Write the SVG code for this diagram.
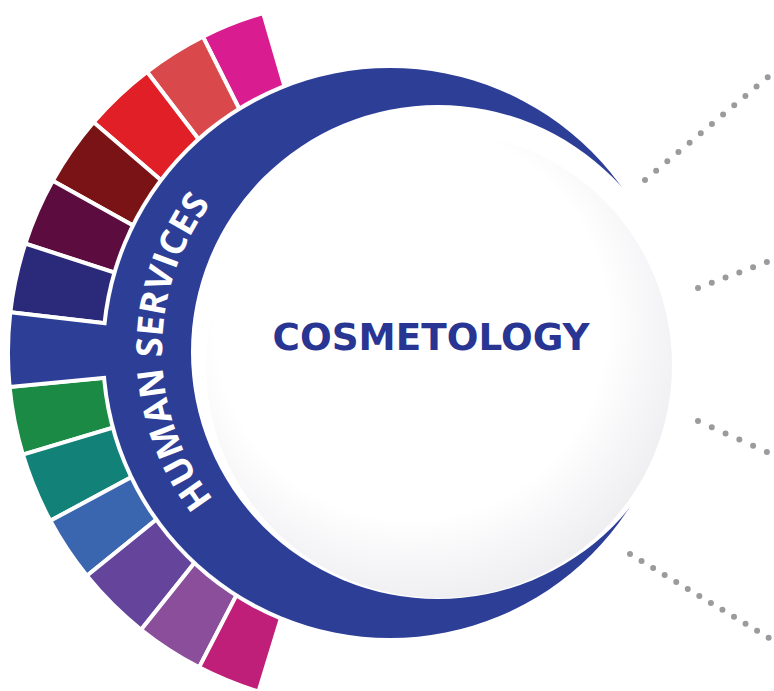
<svg xmlns="http://www.w3.org/2000/svg" width="774" height="691" viewBox="0 0 774 691">
<defs>
<style>
.seg{stroke:#ffffff;stroke-width:4;stroke-linejoin:miter}
.dots{fill:none;stroke:#9b9b9b;stroke-width:6;stroke-linecap:round}
.band-text{font-family:"Open Sans","DejaVu Sans",sans-serif;font-weight:700;font-size:36px;fill:#ffffff}
.title{font-family:"DejaVu Sans","Liberation Sans",sans-serif;font-weight:700;font-size:38px;fill:#283593}
</style>
<radialGradient id="hubGrad" cx="44%" cy="41%" r="60%">
<stop offset="0" stop-color="#ffffff"/>
<stop offset="0.7" stop-color="#ffffff"/>
<stop offset="0.86" stop-color="#f6f6f8"/>
<stop offset="1" stop-color="#efeff2"/>
</radialGradient>
<path id="bandArc" d="M213.5 499.6 A243 243 0 0 1 209.2 206.1"/>
</defs>
<rect x="0" y="0" width="774" height="691" fill="#ffffff"/>

<g id="segments">
<path id="seg-1" class="seg" fill="#d91c8f" d="M362 353 L202.9 36.7 A354 354 0 0 1 263.2 13.1 Z"/>
<path id="seg-2" class="seg" fill="#d9484a" d="M362 353 L147.0 71.8 A354 354 0 0 1 202.9 36.7 Z"/>
<path id="seg-3" class="seg" fill="#e01f26" d="M362 353 L93.6 122.2 A354 354 0 0 1 147.0 71.8 Z"/>
<path id="seg-4" class="seg" fill="#7a1315" d="M362 353 L52.7 180.8 A354 354 0 0 1 93.6 122.2 Z"/>
<path id="seg-5" class="seg" fill="#5c0c3f" d="M362 353 L25.3 243.6 A354 354 0 0 1 52.7 180.8 Z"/>
<path id="seg-6" class="seg" fill="#2b2a7a" d="M362 353 L10.3 312.3 A354 354 0 0 1 25.3 243.6 Z"/>
<path id="seg-8" class="seg" fill="#1a8a45" d="M362 353 L22.9 454.7 A354 354 0 0 1 9.6 386.9 Z"/>
<path id="seg-9" class="seg" fill="#128178" d="M362 353 L50.3 520.8 A354 354 0 0 1 22.9 454.7 Z"/>
<path id="seg-10" class="seg" fill="#3a66b0" d="M362 353 L86.9 575.8 A354 354 0 0 1 50.3 520.8 Z"/>
<path id="seg-11" class="seg" fill="#65459b" d="M362 353 L141.1 629.7 A354 354 0 0 1 86.9 575.8 Z"/>
<path id="seg-12" class="seg" fill="#8a4e9b" d="M362 353 L199.1 667.3 A354 354 0 0 1 141.1 629.7 Z"/>
<path id="seg-13" class="seg" fill="#bf1f78" d="M362 353 L258.5 691.5 A354 354 0 0 1 199.1 667.3 Z"/>
<circle cx="390" cy="353" r="289" fill="#ffffff"/>
<path id="seg-7" class="seg" fill="#2d3e97" d="M362 353 L9.6 386.9 A354 354 0 0 1 10.3 312.3 Z"/>
</g>

<g id="hub">
<circle cx="390" cy="353" r="285" fill="#2d3e97"/>
<circle cx="438" cy="352" r="247" fill="#ffffff"/>
<circle cx="439" cy="365" r="233" fill="url(#hubGrad)"/>
</g>

<g id="human-services">
<text class="band-text"><textPath href="#bandArc" textLength="318" lengthAdjust="spacing">HUMAN SERVICES</textPath></text>
</g>

<g id="cosmetology">
<text class="title" x="431" y="350" text-anchor="middle" textLength="317" lengthAdjust="spacingAndGlyphs">COSMETOLOGY</text>
</g>

<g id="connectors">
<line class="dots" x1="645" y1="180" x2="768" y2="77" stroke-dasharray="0 14.55"/>
<line class="dots" x1="698" y1="288" x2="767" y2="262" stroke-dasharray="0 14.72"/>
<line class="dots" x1="698" y1="421" x2="767" y2="452" stroke-dasharray="0 15.1"/>
<line class="dots" x1="630" y1="554" x2="769" y2="638" stroke-dasharray="0 13.5"/>
</g>
</svg>
